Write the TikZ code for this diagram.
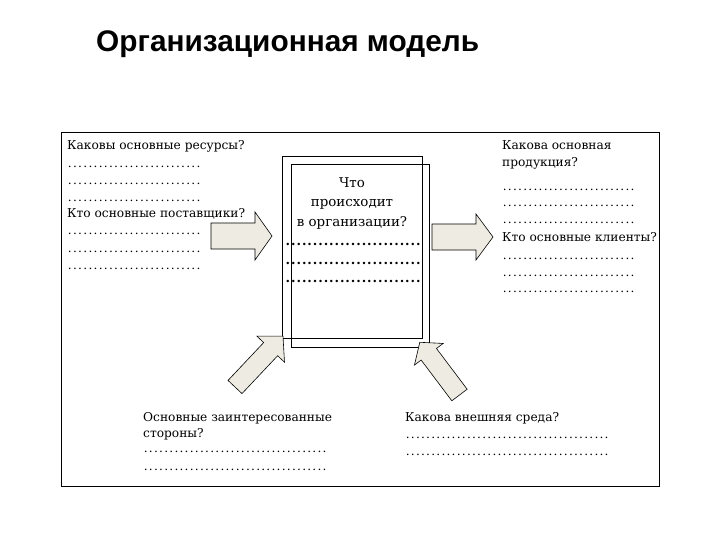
\documentclass[tikz,border=0pt]{standalone}
\usepackage{fontspec}
\setmainfont{DejaVu Serif}
\newfontfamily\titlefont{Liberation Sans}
\newcommand\dotrow[2][5pt]{\hbox to #2{\xleaders\hbox to #1{\hss.\hss}\hfill}}
\tikzset{
  frame/.style={draw=black, line width=0.9pt},
  barrow/.style={draw=black, line width=0.6pt, fill={rgb,255:red,238;green,236;blue,226}, line join=miter},
  txt/.style={anchor=base west, inner sep=0pt, font=\fontsize{12.2}{17}\selectfont},
  ctxt/.style={anchor=base, inner sep=0pt, font=\fontsize{13.4}{19}\selectfont},
  cdots/.style={anchor=base west, inner sep=0pt, font=\fontsize{13}{19}\bfseries\selectfont}
}
\newcommand\blockarrow[6]{%
  \draw[barrow, shift={(#1)}, rotate=#2] (0,-#4) -- ({#3-#6},-#4) -- ({#3-#6},-#5) -- (#3,0)
    -- ({#3-#6},#5) -- ({#3-#6},#4) -- (0,#4) -- cycle;}
\begin{document}
\begin{tikzpicture}[x=1pt,y=-1pt]
\useasboundingbox (0,0) rectangle (720,540);
% title
\node[anchor=base west, inner sep=0pt, font=\titlefont\fontsize{29.8}{34}\bfseries\selectfont] (title) at (96,52) {Организационная модель};
% outer frame
\draw[frame] (61,132) rectangle (659,486);
% central double box
\draw[frame, line width=0.8pt] (282,156) rectangle (422,338);
\draw[frame, line width=0.8pt] (291,164) rectangle (429,347);
% central text
\node[ctxt] (c1) at (352,188) {Что};
\node[ctxt] (c2) at (352,207) {происходит};
\node[ctxt] (c3) at (352,226) {в организации?};
\node[cdots] (cd1) at (285,245) {\dotrow[5.3pt]{136pt}};
\node[cdots] (cd2) at (285,264) {\dotrow[5.3pt]{136pt}};
\node[cdots] (cd3) at (285,282) {\dotrow[5.3pt]{136pt}};
% left block
\node[txt] (l1) at (67,150) {Каковы основные ресурсы?};
\node[txt] (l2) at (67,168) {\dotrow{134pt}};
\node[txt] (l3) at (67,185) {\dotrow{134pt}};
\node[txt] (l4) at (67,202) {\dotrow{134pt}};
\node[txt] (l5) at (67,218) {Кто основные поставщики?};
\node[txt] (l6) at (67,235) {\dotrow{134pt}};
\node[txt] (l7) at (67,252) {\dotrow{134pt}};
\node[txt] (l8) at (67,269) {\dotrow{134pt}};
% right block
\node[txt] (r1) at (502,150) {Какова основная};
\node[txt] (r2) at (502,167) {продукция?};
\node[txt] (r3) at (502,191) {\dotrow{133pt}};
\node[txt] (r4) at (502,207) {\dotrow{133pt}};
\node[txt] (r5) at (502,223) {\dotrow{133pt}};
\node[txt] (r6) at (502,241) {Кто основные клиенты?};
\node[txt] (r7) at (502,259) {\dotrow{133pt}};
\node[txt] (r8) at (502,276) {\dotrow{133pt}};
\node[txt] (r9) at (502,292) {\dotrow{133pt}};
% bottom left block
\node[txt] (b1) at (143,421) {Основные заинтересованные};
\node[txt] (b2) at (143,437) {стороны?};
\node[txt] (b3) at (143,452) {\dotrow{184pt}};
\node[txt] (b4) at (143,470) {\dotrow{184pt}};
% bottom right block
\node[txt] (e1) at (405,421) {Какова внешняя среда?};
\node[txt] (e2) at (405,438) {\dotrow{204pt}};
\node[txt] (e3) at (405,455) {\dotrow{204pt}};
% arrows
\blockarrow{211,236}{0}{61}{13}{24}{17}
\blockarrow{432,237}{0}{61}{13}{23}{17}
\blockarrow{235,387}{46.7}{70}{9.6}{19}{18}
\blockarrow{459.5,395}{127}{66}{9.6}{18}{15}
\end{tikzpicture}
\end{document}
